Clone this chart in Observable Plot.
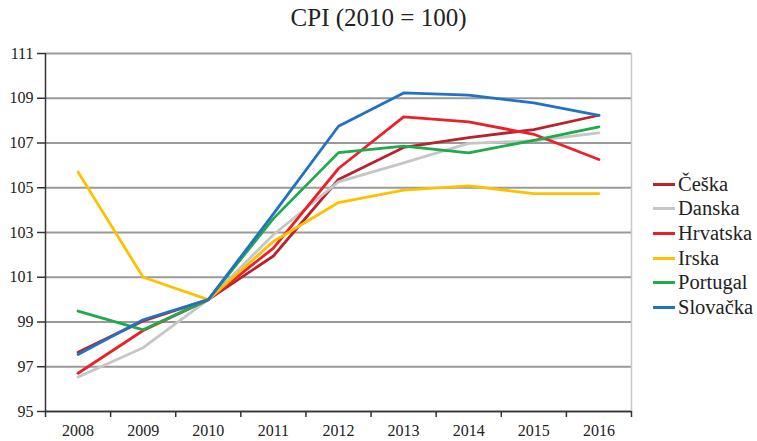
<!DOCTYPE html>
<html><head><meta charset="utf-8">
<script src="https://cdn.jsdelivr.net/npm/d3@7"></script>
<script src="https://cdn.jsdelivr.net/npm/@observablehq/plot@0.6"></script>
<style>
body{margin:0;background:#fff;font-family:'Liberation Serif','Times New Roman',serif;}
#wrap{position:relative;width:757px;height:441px;overflow:hidden;}
#title{position:absolute;left:0;top:0;width:757px;height:36px;text-align:center;font-size:25px;line-height:36px;color:#222;font-family:'Liberation Serif',serif;}
#chart{position:absolute;left:0;top:36px;}
#chart svg text{font-family:'Liberation Serif',serif;}
#legend{position:absolute;left:653px;top:172px;}
.row{display:flex;align-items:center;height:24.6px;font-size:20.5px;color:#222;font-family:'Liberation Serif',serif;}
.sw{width:22px;height:3px;margin-right:3px;}
</style>
</head><body>
<div id="wrap">
  <div id="title">CPI (2010 = 100)</div>
  <div id="chart"></div>
  <div id="legend"></div>
</div>
<script>
const years = [2008, 2009, 2010, 2011, 2012, 2013, 2014, 2015, 2016];
const countries = ["Češka", "Danska", "Hrvatska", "Irska", "Portugal", "Slovačka"];
const colors = ["#b8232c", "#c6c6c6", "#ea2129", "#ffc000", "#1eab4b", "#2272c3"];
const yTicks = [95, 97, 99, 101, 103, 105, 107, 109, 111];

const ceska    = [97.65, 99.05, 100, 101.95, 105.37, 106.8, 107.24, 107.6, 108.24];
const danska   = [96.54, 97.85, 100, 102.9, 105.26, 106.11, 106.98, 107.1, 107.45];
const hrvatska = [96.71, 98.62, 100, 102.3, 105.86, 108.17, 107.94, 107.39, 106.26];
const irska    = [105.7, 101.0, 100, 102.6, 104.34, 104.89, 105.08, 104.74, 104.74];
const portugal = [99.49, 98.65, 100, 103.62, 106.57, 106.86, 106.56, 107.12, 107.72];
const slovacka = [97.55, 99.1, 100, 103.83, 107.75, 109.24, 109.14, 108.79, 108.24];

const series = [ceska, danska, hrvatska, irska, portugal, slovacka];
const data = [];
series.forEach((vals, i) => vals.forEach((v, j) => data.push({country: countries[i], year: years[j], value: v})));

const boundaries = years.map(y => y - 0.5).concat([years[years.length - 1] + 0.5]);
const x0 = boundaries[0], x1 = boundaries[boundaries.length - 1];

const chart = Plot.plot({
  width: 757, height: 405,
  marginTop: 17, marginBottom: 30, marginLeft: 45, marginRight: 126,
  x: {domain: [x0, x1], label: null},
  y: {domain: [yTicks[0], yTicks[yTicks.length - 1]], label: null},
  color: {domain: countries, range: colors},
  style: {fontFamily: "'Liberation Serif', serif", fontSize: "16px", color: "#222", background: "transparent", overflow: "visible"},
  marks: [
    Plot.gridY(yTicks, {stroke: "#9a9a9a", strokeOpacity: 1, strokeWidth: 2}),
    Plot.ruleX([x1], {stroke: "#c8c8c8", strokeWidth: 1.5}),
    Plot.axisY(yTicks, {tickSize: 8, tickPadding: 4, stroke: "#333", strokeWidth: 1.5, label: null, tickFormat: d => String(d)}),
    Plot.axisX(boundaries, {tickSize: 6, tickFormat: () => "", stroke: "#333", strokeWidth: 1.5, label: null}),
    Plot.axisX(years, {tickSize: 0, tickPadding: 13, tickFormat: d => String(d), label: null}),
    Plot.ruleX([x0], {stroke: "#333", strokeWidth: 1.5}),
    Plot.ruleY([yTicks[0]], {stroke: "#333", strokeWidth: 1.5}),
    Plot.line(data, {x: "year", y: "value", z: "country", stroke: "country", strokeWidth: 2.8, strokeLinejoin: "round"})
  ]
});
document.getElementById("chart").appendChild(chart);

const legend = document.getElementById("legend");
countries.forEach((c, i) => {
  const row = document.createElement("div");
  row.className = "row";
  const sw = document.createElement("div");
  sw.className = "sw";
  sw.style.background = colors[i];
  const t = document.createElement("span");
  t.textContent = c;
  row.appendChild(sw); row.appendChild(t);
  legend.appendChild(row);
});
</script>
</body></html>
